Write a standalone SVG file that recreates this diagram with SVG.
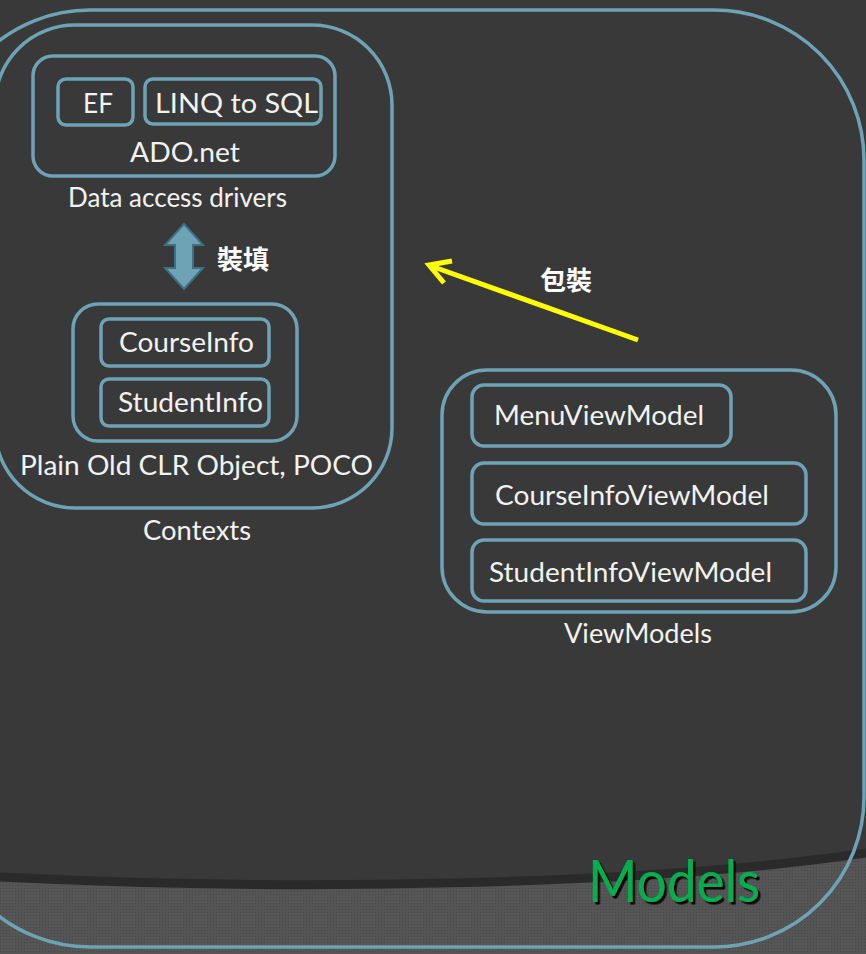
<svg xmlns="http://www.w3.org/2000/svg" width="866" height="954" viewBox="0 0 866 954">
<defs>
<style>
.box{fill:none;stroke:#6ea3b6;stroke-width:3.5}
.t{font-family:Lato,"Noto Sans",sans-serif;fill:#f2f2f2;font-size:27px}
.cjk{font-family:"Noto Sans CJK TC","Noto Sans CJK SC",sans-serif;font-weight:bold;fill:#ffffff;font-size:26px}
</style>
<pattern id="tex" width="3" height="3" patternUnits="userSpaceOnUse">
<rect width="3" height="3" fill="#555555"/>
<rect width="1" height="1" fill="#474747"/>
</pattern>
<filter id="shadow" x="-10%" y="-10%" width="130%" height="130%">
<feDropShadow dx="2.5" dy="2.5" stdDeviation="0.5" flood-color="#000000" flood-opacity="1"/>
</filter>
</defs>
<rect width="866" height="954" fill="#393939"/>
<path d="M0,877 C300,892 650,885 866,853 L866,954 L0,954 Z" fill="url(#tex)"/>
<path d="M0,877 C300,892 650,885 866,853" fill="none" stroke="#2a2a2a" stroke-width="9"/>

<g id="models">
<rect class="box" x="-60" y="10" width="924" height="937" rx="150" ry="150" stroke-width="4"/>
<text x="588" y="902" font-family="Lato,'Noto Sans',sans-serif" font-size="58" fill="#00b050" filter="url(#shadow)" textLength="172" lengthAdjust="spacingAndGlyphs">Models</text>
</g>

<g id="contexts">
<rect class="box" x="-5" y="25" width="397" height="483" rx="80" ry="80"/>
<text class="t" x="143" y="540" textLength="108" lengthAdjust="spacingAndGlyphs">Contexts</text>
</g>

<g id="data-access">
<rect class="box" x="33" y="56" width="302" height="120" rx="20" ry="20"/>
<text class="t" x="130" y="162" textLength="110" lengthAdjust="spacingAndGlyphs">ADO.net</text>
<text class="t" x="68" y="207" textLength="219" lengthAdjust="spacingAndGlyphs">Data access drivers</text>
</g>
<g id="ef">
<rect class="box" x="58" y="79" width="75" height="46" rx="8" ry="8"/>
<text class="t" x="83" y="113" textLength="30" lengthAdjust="spacingAndGlyphs">EF</text>
</g>
<g id="linq">
<rect class="box" x="145" y="79" width="176" height="45" rx="8" ry="8"/>
<text class="t" x="155" y="113" textLength="163" lengthAdjust="spacingAndGlyphs">LINQ to SQL</text>
</g>

<g id="poco">
<rect class="box" x="73" y="304" width="224" height="137" rx="25" ry="25"/>
<text class="t" x="20" y="475" textLength="353" lengthAdjust="spacingAndGlyphs">Plain Old CLR Object, POCO</text>
</g>
<g id="courseinfo">
<rect class="box" x="101" y="319" width="168" height="47" rx="8" ry="8"/>
<text class="t" x="119" y="352" textLength="135" lengthAdjust="spacingAndGlyphs">CourseInfo</text>
</g>
<g id="studentinfo">
<rect class="box" x="101" y="379" width="168" height="47" rx="8" ry="8"/>
<text class="t" x="118" y="412" textLength="145" lengthAdjust="spacingAndGlyphs">StudentInfo</text>
</g>

<g id="viewmodels">
<rect class="box" x="442" y="370" width="394" height="242" rx="45" ry="45"/>
<text class="t" x="564" y="643" textLength="148" lengthAdjust="spacingAndGlyphs">ViewModels</text>
</g>
<g id="menuviewmodel">
<rect class="box" x="472" y="385" width="259" height="61" rx="12" ry="12"/>
<text class="t" x="494" y="425" textLength="210" lengthAdjust="spacingAndGlyphs">MenuViewModel</text>
</g>
<g id="courseinfoviewmodel">
<rect class="box" x="472" y="463" width="334" height="61" rx="12" ry="12"/>
<text class="t" x="495" y="505" textLength="274" lengthAdjust="spacingAndGlyphs">CourseInfoViewModel</text>
</g>
<g id="studentinfoviewmodel">
<rect class="box" x="472" y="540" width="334" height="61" rx="12" ry="12"/>
<text class="t" x="489" y="582" textLength="283" lengthAdjust="spacingAndGlyphs">StudentInfoViewModel</text>
</g>

<g id="connectors">
<path d="M184,224 L203,245 L193,245 L193,268 L203,268 L184,289 L165,268 L175,268 L175,245 L165,245 Z" fill="#6ea3b6" stroke="#3f6f82" stroke-width="2"/>
<text class="cjk" x="217" y="269">裝填</text>
<line x1="638" y1="340" x2="431" y2="266" stroke="#ffff00" stroke-width="5"/>
<polyline points="452,261 429,265 444,283" fill="none" stroke="#ffff00" stroke-width="5" stroke-linejoin="miter"/>
<text class="cjk" x="540" y="290">包裝</text>
</g>
</svg>
